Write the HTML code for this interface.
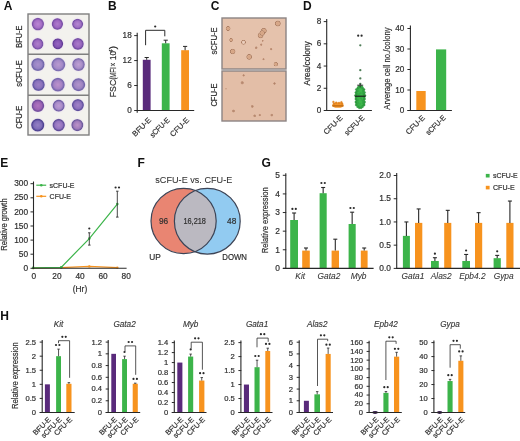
<!DOCTYPE html>
<html><head><meta charset="utf-8"><style>
html,body{margin:0;padding:0;background:#fff;width:520px;height:441px;overflow:hidden}
svg{display:block;will-change:transform;filter:blur(0.3px)}
text{font-family:"Liberation Sans", sans-serif}
</style></head><body>
<svg width="520" height="441" viewBox="0 0 520 441">
<rect width="520" height="441" fill="#fff"/>
<text x="3.80" y="9.85" font-size="12.0" text-anchor="start" fill="#111" font-weight="bold">A</text>
<defs><radialGradient id="cA" cx="50%" cy="48%" r="52%"><stop offset="0" stop-color="#b482d2"/><stop offset="0.55" stop-color="#a272c6"/><stop offset="0.85" stop-color="#865ab0"/><stop offset="1" stop-color="#7d55a8" stop-opacity="0.85"/></radialGradient><radialGradient id="cAd" cx="50%" cy="48%" r="52%"><stop offset="0" stop-color="#9262c0"/><stop offset="0.55" stop-color="#8352b2"/><stop offset="0.85" stop-color="#6c409c"/><stop offset="1" stop-color="#6c449c" stop-opacity="0.85"/></radialGradient><radialGradient id="cB" cx="50%" cy="50%" r="52%"><stop offset="0" stop-color="#b896d2"/><stop offset="0.55" stop-color="#a88cc8"/><stop offset="0.85" stop-color="#8a76b6"/><stop offset="1" stop-color="#7e6ab0" stop-opacity="0.85"/></radialGradient><radialGradient id="cC" cx="50%" cy="50%" r="52%"><stop offset="0" stop-color="#b68cd0"/><stop offset="0.55" stop-color="#a27ec6"/><stop offset="0.85" stop-color="#8064b0"/><stop offset="1" stop-color="#745aa8" stop-opacity="0.85"/></radialGradient><radialGradient id="halo" cx="50%" cy="50%" r="50%"><stop offset="0.6" stop-color="#e9dcef"/><stop offset="1" stop-color="#f3f0ee" stop-opacity="0"/></radialGradient><radialGradient id="col" cx="50%" cy="50%" r="50%"><stop offset="0" stop-color="#d6a484"/><stop offset="0.5" stop-color="#d8a98a"/><stop offset="0.75" stop-color="#a97c62"/><stop offset="1" stop-color="#e5c2ac" stop-opacity="0"/></radialGradient><radialGradient id="colw" cx="50%" cy="50%" r="50%"><stop offset="0" stop-color="#ecd2c2"/><stop offset="0.45" stop-color="#e6c6b2"/><stop offset="0.72" stop-color="#a97c62"/><stop offset="1" stop-color="#e5c2ac" stop-opacity="0"/></radialGradient><radialGradient id="dot" cx="50%" cy="50%" r="50%"><stop offset="0" stop-color="#b0826a"/><stop offset="0.6" stop-color="#c4977d"/><stop offset="1" stop-color="#e3bea7" stop-opacity="0"/></radialGradient></defs>
<rect x="28.00" y="14.00" width="61.00" height="121.00" fill="#f3f2ee"/>
<defs><radialGradient id="cg0" cx="50%" cy="50%" r="50%"><stop offset="0" stop-color="#bb86d4"/><stop offset="0.6" stop-color="#a670c6"/><stop offset="0.88" stop-color="#7c52a8"/><stop offset="1" stop-color="#7c52a8" stop-opacity="0.5"/></radialGradient><radialGradient id="cg1" cx="50%" cy="50%" r="50%"><stop offset="0" stop-color="#b07ccc"/><stop offset="0.6" stop-color="#9c66c0"/><stop offset="0.88" stop-color="#764ca4"/><stop offset="1" stop-color="#764ca4" stop-opacity="0.5"/></radialGradient><radialGradient id="cg2" cx="50%" cy="50%" r="50%"><stop offset="0" stop-color="#b688d2"/><stop offset="0.6" stop-color="#a070c4"/><stop offset="0.88" stop-color="#7650a6"/><stop offset="1" stop-color="#7650a6" stop-opacity="0.5"/></radialGradient><radialGradient id="cg3" cx="50%" cy="50%" r="50%"><stop offset="0" stop-color="#b080cc"/><stop offset="0.6" stop-color="#9c6ac0"/><stop offset="0.88" stop-color="#7650a6"/><stop offset="1" stop-color="#7650a6" stop-opacity="0.5"/></radialGradient><radialGradient id="cg4" cx="50%" cy="50%" r="50%"><stop offset="0" stop-color="#9866c2"/><stop offset="0.6" stop-color="#8454b4"/><stop offset="0.88" stop-color="#623c96"/><stop offset="1" stop-color="#623c96" stop-opacity="0.5"/></radialGradient><radialGradient id="cg5" cx="50%" cy="50%" r="50%"><stop offset="0" stop-color="#ac7cca"/><stop offset="0.6" stop-color="#9866be"/><stop offset="0.88" stop-color="#704aa0"/><stop offset="1" stop-color="#704aa0" stop-opacity="0.5"/></radialGradient><radialGradient id="cg6" cx="50%" cy="50%" r="50%"><stop offset="0" stop-color="#a890cc"/><stop offset="0.6" stop-color="#9684c4"/><stop offset="0.88" stop-color="#6e64a8"/><stop offset="1" stop-color="#6e64a8" stop-opacity="0.5"/></radialGradient><radialGradient id="cg7" cx="50%" cy="50%" r="50%"><stop offset="0" stop-color="#b89ad0"/><stop offset="0.6" stop-color="#a48ac8"/><stop offset="0.88" stop-color="#7a6cb0"/><stop offset="1" stop-color="#7a6cb0" stop-opacity="0.5"/></radialGradient><radialGradient id="cg8" cx="50%" cy="50%" r="50%"><stop offset="0" stop-color="#c0a0d4"/><stop offset="0.6" stop-color="#a88ec8"/><stop offset="0.88" stop-color="#7a68ac"/><stop offset="1" stop-color="#7a68ac" stop-opacity="0.5"/></radialGradient><radialGradient id="cg9" cx="50%" cy="50%" r="50%"><stop offset="0" stop-color="#9c80c4"/><stop offset="0.6" stop-color="#8a72bc"/><stop offset="0.88" stop-color="#5e54a0"/><stop offset="1" stop-color="#5e54a0" stop-opacity="0.5"/></radialGradient><radialGradient id="cg10" cx="50%" cy="50%" r="50%"><stop offset="0" stop-color="#bc92cc"/><stop offset="0.6" stop-color="#a482c4"/><stop offset="0.88" stop-color="#7464ac"/><stop offset="1" stop-color="#7464ac" stop-opacity="0.5"/></radialGradient><radialGradient id="cg11" cx="50%" cy="50%" r="50%"><stop offset="0" stop-color="#b294cc"/><stop offset="0.6" stop-color="#9e84c2"/><stop offset="0.88" stop-color="#7264aa"/><stop offset="1" stop-color="#7264aa" stop-opacity="0.5"/></radialGradient><radialGradient id="cg12" cx="50%" cy="50%" r="50%"><stop offset="0" stop-color="#b074c0"/><stop offset="0.6" stop-color="#9c64b4"/><stop offset="0.88" stop-color="#704c9c"/><stop offset="1" stop-color="#704c9c" stop-opacity="0.5"/></radialGradient><radialGradient id="cg13" cx="50%" cy="50%" r="50%"><stop offset="0" stop-color="#be9cd4"/><stop offset="0.6" stop-color="#a88cc8"/><stop offset="0.88" stop-color="#6e5ca4"/><stop offset="1" stop-color="#6e5ca4" stop-opacity="0.5"/></radialGradient><radialGradient id="cg14" cx="50%" cy="50%" r="50%"><stop offset="0" stop-color="#a284c8"/><stop offset="0.6" stop-color="#8c70bc"/><stop offset="0.88" stop-color="#5e4e9c"/><stop offset="1" stop-color="#5e4e9c" stop-opacity="0.5"/></radialGradient><radialGradient id="cg15" cx="50%" cy="50%" r="50%"><stop offset="0" stop-color="#9480c4"/><stop offset="0.6" stop-color="#7e6cb8"/><stop offset="0.88" stop-color="#4c4090"/><stop offset="1" stop-color="#4c4090" stop-opacity="0.5"/></radialGradient><radialGradient id="cg16" cx="50%" cy="50%" r="50%"><stop offset="0" stop-color="#aa88ca"/><stop offset="0.6" stop-color="#9474c0"/><stop offset="0.88" stop-color="#5e4c98"/><stop offset="1" stop-color="#5e4c98" stop-opacity="0.5"/></radialGradient><radialGradient id="cg17" cx="50%" cy="50%" r="50%"><stop offset="0" stop-color="#bc94c8"/><stop offset="0.6" stop-color="#a07cbc"/><stop offset="0.88" stop-color="#6a589c"/><stop offset="1" stop-color="#6a589c" stop-opacity="0.5"/></radialGradient></defs>
<ellipse cx="37.9" cy="24.1" rx="8.4" ry="8.600000000000001" fill="url(#halo)"/>
<ellipse cx="57.4" cy="24.0" rx="7.9" ry="8.100000000000001" fill="url(#halo)"/>
<ellipse cx="77.6" cy="24.1" rx="7.8" ry="7.6000000000000005" fill="url(#halo)"/>
<ellipse cx="37.7" cy="43.9" rx="8.0" ry="8.100000000000001" fill="url(#halo)"/>
<ellipse cx="57.8" cy="43.8" rx="7.6000000000000005" ry="7.8" fill="url(#halo)"/>
<ellipse cx="77.9" cy="43.9" rx="8.2" ry="8.2" fill="url(#halo)"/>
<ellipse cx="37.9" cy="64.5" rx="9.0" ry="8.8" fill="url(#halo)"/>
<ellipse cx="58.3" cy="64.6" rx="9.3" ry="9.2" fill="url(#halo)"/>
<ellipse cx="78.5" cy="64.5" rx="8.600000000000001" ry="8.8" fill="url(#halo)"/>
<ellipse cx="38.5" cy="84.7" rx="8.600000000000001" ry="8.5" fill="url(#halo)"/>
<ellipse cx="57.9" cy="84.7" rx="9.2" ry="9.2" fill="url(#halo)"/>
<ellipse cx="78.5" cy="84.7" rx="9.0" ry="8.8" fill="url(#halo)"/>
<ellipse cx="37.9" cy="105.7" rx="8.600000000000001" ry="8.600000000000001" fill="url(#halo)"/>
<ellipse cx="58.7" cy="105.7" rx="8.3" ry="8.3" fill="url(#halo)"/>
<ellipse cx="77.9" cy="105.1" rx="8.3" ry="8.4" fill="url(#halo)"/>
<ellipse cx="37.7" cy="125.1" rx="8.9" ry="8.8" fill="url(#halo)"/>
<ellipse cx="58.7" cy="125.1" rx="8.5" ry="8.5" fill="url(#halo)"/>
<ellipse cx="77.3" cy="125.1" rx="8.3" ry="8.4" fill="url(#halo)"/>
<ellipse cx="37.9" cy="24.1" rx="6.2" ry="6.4" fill="url(#cg0)"/>
<ellipse cx="57.4" cy="24.0" rx="5.7" ry="5.9" fill="url(#cg1)"/>
<ellipse cx="77.6" cy="24.1" rx="5.6" ry="5.4" fill="url(#cg2)"/>
<ellipse cx="37.7" cy="43.9" rx="5.8" ry="5.9" fill="url(#cg3)"/>
<ellipse cx="57.8" cy="43.8" rx="5.4" ry="5.6" fill="url(#cg4)"/>
<ellipse cx="77.9" cy="43.9" rx="6.0" ry="6.0" fill="url(#cg5)"/>
<ellipse cx="37.9" cy="64.5" rx="6.8" ry="6.6" fill="url(#cg6)"/>
<ellipse cx="58.3" cy="64.6" rx="7.1" ry="7.0" fill="url(#cg7)"/>
<ellipse cx="78.5" cy="64.5" rx="6.4" ry="6.6" fill="url(#cg8)"/>
<ellipse cx="38.5" cy="84.7" rx="6.4" ry="6.3" fill="url(#cg9)"/>
<ellipse cx="57.9" cy="84.7" rx="7.0" ry="7.0" fill="url(#cg10)"/>
<ellipse cx="78.5" cy="84.7" rx="6.8" ry="6.6" fill="url(#cg11)"/>
<ellipse cx="37.9" cy="105.7" rx="6.4" ry="6.4" fill="url(#cg12)"/>
<ellipse cx="58.7" cy="105.7" rx="6.1" ry="6.1" fill="url(#cg13)"/>
<ellipse cx="77.9" cy="105.1" rx="6.1" ry="6.2" fill="url(#cg14)"/>
<ellipse cx="37.7" cy="125.1" rx="6.7" ry="6.6" fill="url(#cg15)"/>
<ellipse cx="58.7" cy="125.1" rx="6.3" ry="6.3" fill="url(#cg16)"/>
<ellipse cx="77.3" cy="125.1" rx="6.1" ry="6.2" fill="url(#cg17)"/>
<rect x="28" y="14" width="61" height="121" fill="none" stroke="#7f7f7f" stroke-width="1.4"/>
<line x1="28.00" y1="54.30" x2="89.00" y2="54.30" stroke="#7f7f7f" stroke-width="1.4"/>
<line x1="28.00" y1="95.20" x2="89.00" y2="95.20" stroke="#7f7f7f" stroke-width="1.4"/>
<text x="21.90" y="36.70" font-size="8.4" text-anchor="middle" fill="#303030" stroke="#303030" stroke-width="0.2" transform="rotate(-90 21.90 36.70)" textLength="22.2" lengthAdjust="spacingAndGlyphs">BFU-E</text>
<text x="21.90" y="73.50" font-size="8.4" text-anchor="middle" fill="#303030" stroke="#303030" stroke-width="0.2" transform="rotate(-90 21.90 73.50)" textLength="26.6" lengthAdjust="spacingAndGlyphs">sCFU-E</text>
<text x="21.90" y="117.20" font-size="8.4" text-anchor="middle" fill="#303030" stroke="#303030" stroke-width="0.2" transform="rotate(-90 21.90 117.20)" textLength="23.2" lengthAdjust="spacingAndGlyphs">CFU-E</text>
<text x="108.00" y="9.85" font-size="12.0" text-anchor="start" fill="#111" font-weight="bold">B</text>
<rect x="142.80" y="59.80" width="7.80" height="50.70" fill="#592a7b"/>
<line x1="146.70" y1="59.80" x2="146.70" y2="57.50" stroke="#282828" stroke-width="1"/>
<line x1="144.60" y1="57.50" x2="148.80" y2="57.50" stroke="#282828" stroke-width="1"/>
<rect x="161.80" y="43.30" width="7.80" height="67.20" fill="#3cb44a"/>
<line x1="165.70" y1="43.30" x2="165.70" y2="40.20" stroke="#282828" stroke-width="1"/>
<line x1="163.60" y1="40.20" x2="167.80" y2="40.20" stroke="#282828" stroke-width="1"/>
<rect x="181.20" y="50.20" width="7.80" height="60.30" fill="#f7931e"/>
<line x1="185.10" y1="50.20" x2="185.10" y2="46.40" stroke="#282828" stroke-width="1"/>
<line x1="183.00" y1="46.40" x2="187.20" y2="46.40" stroke="#282828" stroke-width="1"/>
<polyline points="145.6,45.2 145.6,30.3 164.8,30.3 164.8,36.3" fill="none" stroke="#2b2b2b" stroke-width="1"/>
<circle cx="155.20" cy="26.50" r="1.1" fill="#2a2a2a"/>
<text x="116.40" y="97.20" font-size="8.7" text-anchor="start" fill="#303030" stroke="#303030" stroke-width="0.2" transform="rotate(-90 116.40 97.20)" textLength="17.4" lengthAdjust="spacingAndGlyphs">FSC</text>
<text x="116.40" y="79.60" font-size="8.7" text-anchor="start" fill="#303030" stroke="#303030" stroke-width="0.2" transform="rotate(-90 116.40 79.60)" textLength="12.2" lengthAdjust="spacingAndGlyphs">(MFI</text>
<text x="116.40" y="66.40" font-size="8.7" text-anchor="start" fill="#303030" stroke="#303030" stroke-width="0.2" transform="rotate(-90 116.40 66.40)" textLength="3.6" lengthAdjust="spacingAndGlyphs">×</text>
<text x="116.40" y="60.00" font-size="8.7" text-anchor="start" fill="#303030" stroke="#303030" stroke-width="0.2" transform="rotate(-90 116.40 60.00)" textLength="9.0" lengthAdjust="spacingAndGlyphs">10</text>
<text x="112.60" y="52.60" font-size="5.6" text-anchor="start" fill="#303030" stroke="#303030" stroke-width="0.2" transform="rotate(-90 112.60 52.60)" textLength="3.2" lengthAdjust="spacingAndGlyphs">4</text>
<text x="116.40" y="49.40" font-size="8.7" text-anchor="start" fill="#303030" stroke="#303030" stroke-width="0.2" transform="rotate(-90 116.40 49.40)" textLength="3.6" lengthAdjust="spacingAndGlyphs">)</text>
<text x="151.54" y="120.67" font-size="7.6" text-anchor="end" fill="#303030" stroke="#303030" stroke-width="0.2" transform="rotate(-45 151.54 120.67)" textLength="23.0" lengthAdjust="spacingAndGlyphs">BFU-E</text>
<text x="170.24" y="120.67" font-size="7.6" text-anchor="end" fill="#303030" stroke="#303030" stroke-width="0.2" transform="rotate(-45 170.24 120.67)" textLength="24.5" lengthAdjust="spacingAndGlyphs">sCFU-E</text>
<text x="189.74" y="120.67" font-size="7.6" text-anchor="end" fill="#303030" stroke="#303030" stroke-width="0.2" transform="rotate(-45 189.74 120.67)" textLength="23.5" lengthAdjust="spacingAndGlyphs">CFU-E</text>
<text x="210.80" y="9.85" font-size="12.0" text-anchor="start" fill="#111" font-weight="bold">C</text>
<rect x="222.00" y="18.00" width="64.00" height="51.00" fill="#e5c2ac"/>
<rect x="222.00" y="71.00" width="64.00" height="50.00" fill="#e3bea7"/>
<circle cx="228.1" cy="28.5" r="2.8" fill="url(#col)"/>
<circle cx="231.2" cy="40" r="2.2" fill="url(#col)"/>
<circle cx="243.5" cy="42.3" r="2.8" fill="url(#colw)"/>
<circle cx="232.7" cy="51.5" r="3.2" fill="url(#col)"/>
<circle cx="249.2" cy="56.9" r="3.3" fill="url(#col)"/>
<circle cx="263.8" cy="30.8" r="3.4" fill="url(#col)"/>
<circle cx="260.6" cy="35.4" r="3.4" fill="url(#col)"/>
<circle cx="262.2" cy="33.0" r="3.2" fill="url(#col)"/>
<circle cx="277.8" cy="23.5" r="3.4" fill="url(#col)"/>
<circle cx="275.8" cy="64.2" r="2.6" fill="url(#col)"/>
<circle cx="271.2" cy="49.2" r="1.6" fill="url(#dot)"/>
<circle cx="261.2" cy="44.6" r="1.6" fill="url(#dot)"/>
<circle cx="256.2" cy="47.7" r="1.8" fill="url(#dot)"/>
<circle cx="263.5" cy="59.2" r="1.5" fill="url(#dot)"/>
<circle cx="262.7" cy="40.8" r="1.3" fill="url(#dot)"/>
<circle cx="243.6" cy="75.4" r="1.6" fill="url(#dot)"/>
<circle cx="242.2" cy="82.8" r="2.2" fill="url(#dot)"/>
<circle cx="274.5" cy="83.5" r="1.7" fill="url(#dot)"/>
<circle cx="226" cy="88.9" r="1.0" fill="url(#dot)"/>
<circle cx="252.3" cy="106.4" r="1.9" fill="url(#dot)"/>
<circle cx="233.5" cy="111" r="2.0" fill="url(#dot)"/>
<circle cx="254.7" cy="115.8" r="1.9" fill="url(#dot)"/>
<circle cx="259.7" cy="115.1" r="1.6" fill="url(#dot)"/>
<circle cx="271.8" cy="115.1" r="1.9" fill="url(#dot)"/>
<rect x="222" y="18" width="64" height="51" fill="none" stroke="#8c8484" stroke-width="1.4"/>
<rect x="222" y="71" width="64" height="50" fill="none" stroke="#8c8484" stroke-width="1.4"/>
<text x="217.00" y="40.90" font-size="8.4" text-anchor="middle" fill="#303030" stroke="#303030" stroke-width="0.2" transform="rotate(-90 217.00 40.90)" textLength="27.2" lengthAdjust="spacingAndGlyphs">sCFU-E</text>
<text x="217.00" y="95.00" font-size="8.4" text-anchor="middle" fill="#303030" stroke="#303030" stroke-width="0.2" transform="rotate(-90 217.00 95.00)" textLength="23.2" lengthAdjust="spacingAndGlyphs">CFU-E</text>
<text x="302.90" y="9.85" font-size="12.0" text-anchor="start" fill="#111" font-weight="bold">D</text>
<text x="310.00" y="63.30" font-size="8.6" text-anchor="middle" fill="#303030" stroke="#303030" stroke-width="0.2" transform="rotate(-90 310.00 63.30)" textLength="44.2" lengthAdjust="spacingAndGlyphs">Area/colony</text>
<polygon points="359.40,85.80 358.20,86.60 357.20,88.00 355.70,89.50 356.40,91.00 355.20,92.50 355.90,94.00 354.80,95.50 355.60,97.50 355.20,99.00 356.20,100.50 355.20,102.00 356.00,103.50 355.60,105.00 357.20,106.50 358.60,107.80 359.60,108.50 360.80,108.50 361.80,107.80 363.20,106.50 364.80,105.00 364.40,103.50 365.20,102.00 364.20,100.50 365.20,99.00 364.80,97.50 365.60,95.50 364.50,94.00 365.20,92.50 364.00,91.00 364.70,89.50 363.20,88.00 362.20,86.60 361.00,85.80" fill="#3db84b"/>
<circle cx="358.80" cy="86.60" r="1.0" fill="#33a544" stroke="#2a8c3a" stroke-width="0.4"/>
<circle cx="361.60" cy="86.60" r="1.0" fill="#33a544" stroke="#2a8c3a" stroke-width="0.4"/>
<circle cx="357.80" cy="88.00" r="1.0" fill="#33a544" stroke="#2a8c3a" stroke-width="0.4"/>
<circle cx="362.60" cy="88.00" r="1.0" fill="#33a544" stroke="#2a8c3a" stroke-width="0.4"/>
<circle cx="356.30" cy="89.50" r="1.0" fill="#33a544" stroke="#2a8c3a" stroke-width="0.4"/>
<circle cx="364.10" cy="89.50" r="1.0" fill="#33a544" stroke="#2a8c3a" stroke-width="0.4"/>
<circle cx="357.00" cy="91.00" r="1.0" fill="#33a544" stroke="#2a8c3a" stroke-width="0.4"/>
<circle cx="363.40" cy="91.00" r="1.0" fill="#33a544" stroke="#2a8c3a" stroke-width="0.4"/>
<circle cx="355.80" cy="92.50" r="1.0" fill="#33a544" stroke="#2a8c3a" stroke-width="0.4"/>
<circle cx="364.60" cy="92.50" r="1.0" fill="#33a544" stroke="#2a8c3a" stroke-width="0.4"/>
<circle cx="356.50" cy="94.00" r="1.0" fill="#33a544" stroke="#2a8c3a" stroke-width="0.4"/>
<circle cx="363.90" cy="94.00" r="1.0" fill="#33a544" stroke="#2a8c3a" stroke-width="0.4"/>
<circle cx="355.40" cy="95.50" r="1.0" fill="#33a544" stroke="#2a8c3a" stroke-width="0.4"/>
<circle cx="365.00" cy="95.50" r="1.0" fill="#33a544" stroke="#2a8c3a" stroke-width="0.4"/>
<circle cx="356.20" cy="97.50" r="1.0" fill="#33a544" stroke="#2a8c3a" stroke-width="0.4"/>
<circle cx="364.20" cy="97.50" r="1.0" fill="#33a544" stroke="#2a8c3a" stroke-width="0.4"/>
<circle cx="355.80" cy="99.00" r="1.0" fill="#33a544" stroke="#2a8c3a" stroke-width="0.4"/>
<circle cx="364.60" cy="99.00" r="1.0" fill="#33a544" stroke="#2a8c3a" stroke-width="0.4"/>
<circle cx="356.80" cy="100.50" r="1.0" fill="#33a544" stroke="#2a8c3a" stroke-width="0.4"/>
<circle cx="363.60" cy="100.50" r="1.0" fill="#33a544" stroke="#2a8c3a" stroke-width="0.4"/>
<circle cx="355.80" cy="102.00" r="1.0" fill="#33a544" stroke="#2a8c3a" stroke-width="0.4"/>
<circle cx="364.60" cy="102.00" r="1.0" fill="#33a544" stroke="#2a8c3a" stroke-width="0.4"/>
<circle cx="356.60" cy="103.50" r="1.0" fill="#33a544" stroke="#2a8c3a" stroke-width="0.4"/>
<circle cx="363.80" cy="103.50" r="1.0" fill="#33a544" stroke="#2a8c3a" stroke-width="0.4"/>
<circle cx="356.20" cy="105.00" r="1.0" fill="#33a544" stroke="#2a8c3a" stroke-width="0.4"/>
<circle cx="364.20" cy="105.00" r="1.0" fill="#33a544" stroke="#2a8c3a" stroke-width="0.4"/>
<circle cx="357.80" cy="106.50" r="1.0" fill="#33a544" stroke="#2a8c3a" stroke-width="0.4"/>
<circle cx="362.60" cy="106.50" r="1.0" fill="#33a544" stroke="#2a8c3a" stroke-width="0.4"/>
<circle cx="359.20" cy="107.80" r="1.0" fill="#33a544" stroke="#2a8c3a" stroke-width="0.4"/>
<circle cx="361.20" cy="107.80" r="1.0" fill="#33a544" stroke="#2a8c3a" stroke-width="0.4"/>
<circle cx="361.65" cy="99.77" r="0.9" fill="#34a846" opacity="0.8"/>
<circle cx="362.85" cy="103.30" r="0.9" fill="#34a846" opacity="0.8"/>
<circle cx="362.73" cy="102.17" r="0.9" fill="#34a846" opacity="0.8"/>
<circle cx="359.99" cy="87.59" r="0.9" fill="#34a846" opacity="0.8"/>
<circle cx="361.09" cy="106.34" r="0.9" fill="#34a846" opacity="0.8"/>
<circle cx="357.88" cy="105.47" r="0.9" fill="#34a846" opacity="0.8"/>
<circle cx="358.68" cy="96.62" r="0.9" fill="#34a846" opacity="0.8"/>
<circle cx="360.64" cy="98.15" r="0.9" fill="#34a846" opacity="0.8"/>
<circle cx="358.50" cy="87.27" r="0.9" fill="#34a846" opacity="0.8"/>
<circle cx="362.70" cy="92.73" r="0.9" fill="#34a846" opacity="0.8"/>
<circle cx="358.16" cy="102.70" r="0.9" fill="#34a846" opacity="0.8"/>
<circle cx="358.03" cy="103.34" r="0.9" fill="#34a846" opacity="0.8"/>
<circle cx="357.96" cy="99.66" r="0.9" fill="#34a846" opacity="0.8"/>
<circle cx="362.43" cy="87.04" r="0.9" fill="#34a846" opacity="0.8"/>
<circle cx="358.49" cy="91.29" r="0.9" fill="#34a846" opacity="0.8"/>
<circle cx="362.43" cy="107.14" r="0.9" fill="#34a846" opacity="0.8"/>
<circle cx="362.97" cy="92.93" r="0.9" fill="#34a846" opacity="0.8"/>
<circle cx="361.27" cy="98.05" r="0.9" fill="#34a846" opacity="0.8"/>
<circle cx="362.85" cy="91.20" r="0.9" fill="#34a846" opacity="0.8"/>
<circle cx="363.00" cy="101.16" r="0.9" fill="#34a846" opacity="0.8"/>
<circle cx="358.99" cy="105.32" r="0.9" fill="#34a846" opacity="0.8"/>
<circle cx="358.20" cy="94.40" r="0.9" fill="#34a846" opacity="0.8"/>
<circle cx="357.59" cy="89.99" r="0.9" fill="#34a846" opacity="0.8"/>
<circle cx="360.82" cy="93.18" r="0.9" fill="#34a846" opacity="0.8"/>
<circle cx="361.27" cy="87.07" r="0.9" fill="#34a846" opacity="0.8"/>
<circle cx="359.06" cy="93.93" r="0.9" fill="#34a846" opacity="0.8"/>
<circle cx="360.08" cy="103.78" r="0.9" fill="#34a846" opacity="0.8"/>
<circle cx="360.09" cy="93.47" r="0.9" fill="#34a846" opacity="0.8"/>
<circle cx="357.54" cy="101.45" r="0.9" fill="#34a846" opacity="0.8"/>
<circle cx="357.34" cy="106.99" r="0.9" fill="#34a846" opacity="0.8"/>
<circle cx="360.3" cy="45.3" r="1.15" fill="#4f7d58"/>
<circle cx="360.3" cy="70.2" r="1.15" fill="#4f7d58"/>
<circle cx="360.3" cy="78.4" r="1.15" fill="#4f7d58"/>
<circle cx="360.3" cy="83.9" r="1.15" fill="#4f7d58"/>
<line x1="360.20" y1="83.60" x2="360.20" y2="87.50" stroke="#222" stroke-width="0.7"/>
<line x1="357.20" y1="85.20" x2="363.20" y2="85.20" stroke="#222" stroke-width="0.9"/>
<line x1="354.90" y1="96.20" x2="365.60" y2="96.20" stroke="#1a1a1a" stroke-width="1.2"/>
<polygon points="335.30,102.60 333.70,103.30 332.70,104.00 332.20,105.00 332.20,106.00 333.30,107.00 335.30,107.80 340.50,107.80 342.50,107.00 343.60,106.00 343.60,105.00 343.10,104.00 342.10,103.30 340.50,102.60" fill="#f6962a"/>
<circle cx="333.4" cy="101.9" r="0.95" fill="#ef8c20" stroke="#c8741a" stroke-width="0.3"/>
<circle cx="336.2" cy="102.6" r="0.95" fill="#ef8c20" stroke="#c8741a" stroke-width="0.3"/>
<circle cx="341.4" cy="102.3" r="0.95" fill="#ef8c20" stroke="#c8741a" stroke-width="0.3"/>
<circle cx="339" cy="102.9" r="0.95" fill="#ef8c20" stroke="#c8741a" stroke-width="0.3"/>
<circle cx="334" cy="103.6" r="0.95" fill="#ef8c20" stroke="#c8741a" stroke-width="0.3"/>
<circle cx="342.2" cy="103.8" r="0.95" fill="#ef8c20" stroke="#c8741a" stroke-width="0.3"/>
<line x1="332.30" y1="105.90" x2="343.50" y2="105.90" stroke="#b0600e" stroke-width="1.1"/>
<circle cx="358.20" cy="35.70" r="1.1" fill="#2a2a2a"/>
<circle cx="361.60" cy="35.70" r="1.1" fill="#2a2a2a"/>
<text x="343.24" y="118.47" font-size="7.6" text-anchor="end" fill="#303030" stroke="#303030" stroke-width="0.2" transform="rotate(-45 343.24 118.47)" textLength="23.5" lengthAdjust="spacingAndGlyphs">CFU-E</text>
<text x="364.94" y="118.47" font-size="7.6" text-anchor="end" fill="#303030" stroke="#303030" stroke-width="0.2" transform="rotate(-45 364.94 118.47)" textLength="24.5" lengthAdjust="spacingAndGlyphs">sCFU-E</text>
<rect x="416.30" y="91.00" width="9.40" height="19.50" fill="#f7931e"/>
<rect x="436.00" y="49.40" width="10.20" height="61.10" fill="#3cb44a"/>
<text x="389.60" y="68.50" font-size="8.4" text-anchor="middle" fill="#303030" stroke="#303030" stroke-width="0.2" transform="rotate(-90 389.60 68.50)" textLength="82.5" lengthAdjust="spacingAndGlyphs">Arverage cell no./colony</text>
<text x="425.34" y="118.27" font-size="7.6" text-anchor="end" fill="#303030" stroke="#303030" stroke-width="0.2" transform="rotate(-45 425.34 118.27)" textLength="23.5" lengthAdjust="spacingAndGlyphs">CFU-E</text>
<text x="446.14" y="118.27" font-size="7.6" text-anchor="end" fill="#303030" stroke="#303030" stroke-width="0.2" transform="rotate(-45 446.14 118.27)" textLength="24.5" lengthAdjust="spacingAndGlyphs">sCFU-E</text>
<text x="0.30" y="166.95" font-size="12.0" text-anchor="start" fill="#111" font-weight="bold">E</text>
<text x="33.80" y="279.00" font-size="8.3" text-anchor="middle" fill="#303030" stroke="#303030" stroke-width="0.2">0</text>
<text x="56.90" y="279.00" font-size="8.3" text-anchor="middle" fill="#303030" stroke="#303030" stroke-width="0.2">20</text>
<text x="80.00" y="279.00" font-size="8.3" text-anchor="middle" fill="#303030" stroke="#303030" stroke-width="0.2">40</text>
<text x="103.10" y="279.00" font-size="8.3" text-anchor="middle" fill="#303030" stroke="#303030" stroke-width="0.2">60</text>
<text x="126.20" y="279.00" font-size="8.3" text-anchor="middle" fill="#303030" stroke="#303030" stroke-width="0.2">80</text>
<text x="80.00" y="292.00" font-size="8.3" text-anchor="middle" fill="#303030" stroke="#303030" stroke-width="0.2">(Hr)</text>
<text x="7.50" y="224.60" font-size="8.7" text-anchor="middle" fill="#303030" stroke="#303030" stroke-width="0.2" transform="rotate(-90 7.50 224.60)" textLength="52.5" lengthAdjust="spacingAndGlyphs">Relative growth</text>
<polyline points="33.2,268.0 61.2,267.6 89.3,266.4 117.3,267.6" fill="none" stroke="#f7931e" stroke-width="1.2"/>
<circle cx="33.2" cy="268.0" r="1.2" fill="#f7931e"/>
<circle cx="61.2" cy="267.6" r="1.2" fill="#f7931e"/>
<circle cx="89.3" cy="266.4" r="1.2" fill="#f7931e"/>
<circle cx="117.3" cy="267.6" r="1.2" fill="#f7931e"/>
<polyline points="33.2,267.9 61.2,267.3 89.3,238.6 117.3,204.1" fill="none" stroke="#3cb44a" stroke-width="1.2"/>
<circle cx="33.2" cy="267.9" r="1.3" fill="#3cb44a"/>
<circle cx="61.2" cy="267.3" r="1.3" fill="#3cb44a"/>
<circle cx="89.3" cy="238.6" r="1.3" fill="#3cb44a"/>
<circle cx="117.3" cy="204.1" r="1.3" fill="#3cb44a"/>
<line x1="89.30" y1="245.10" x2="89.30" y2="232.80" stroke="#333" stroke-width="0.9"/>
<line x1="88.05" y1="232.80" x2="90.55" y2="232.80" stroke="#333" stroke-width="0.9"/>
<line x1="88.00" y1="245.10" x2="90.60" y2="245.10" stroke="#333" stroke-width="0.9"/>
<line x1="117.30" y1="217.10" x2="117.30" y2="191.20" stroke="#333" stroke-width="0.9"/>
<line x1="116.05" y1="191.20" x2="118.55" y2="191.20" stroke="#333" stroke-width="0.9"/>
<line x1="116.00" y1="217.10" x2="118.60" y2="217.10" stroke="#333" stroke-width="0.9"/>
<circle cx="89.30" cy="228.50" r="1.1" fill="#2a2a2a"/>
<circle cx="115.60" cy="187.50" r="1.1" fill="#2a2a2a"/>
<circle cx="119.00" cy="187.50" r="1.1" fill="#2a2a2a"/>
<line x1="36.30" y1="185.20" x2="46.20" y2="185.20" stroke="#3cb44a" stroke-width="1.2"/>
<circle cx="41.3" cy="185.2" r="1.3" fill="#3cb44a"/>
<line x1="36.30" y1="196.30" x2="46.20" y2="196.30" stroke="#f7931e" stroke-width="1.2"/>
<circle cx="41.3" cy="196.3" r="1.3" fill="#f7931e"/>
<text x="49.60" y="187.90" font-size="7.5" text-anchor="start" fill="#303030" stroke="#303030" stroke-width="0.2" textLength="24.8" lengthAdjust="spacingAndGlyphs">sCFU-E</text>
<text x="49.60" y="199.00" font-size="7.5" text-anchor="start" fill="#303030" stroke="#303030" stroke-width="0.2" textLength="21.4" lengthAdjust="spacingAndGlyphs">CFU-E</text>
<text x="137.60" y="166.75" font-size="12.0" text-anchor="start" fill="#111" font-weight="bold">F</text>
<text x="193.80" y="182.90" font-size="9.6" text-anchor="middle" fill="#333" stroke="#333" stroke-width="0.05" textLength="77.0" lengthAdjust="spacingAndGlyphs">sCFU-E vs. CFU-E</text>
<circle cx="183.6" cy="221.0" r="32.6" fill="#e98572"/>
<circle cx="207.3" cy="221.2" r="32.9" fill="#92cbf1"/>
<clipPath id="clr"><circle cx="183.6" cy="221.0" r="32.6"/></clipPath>
<circle cx="207.3" cy="221.2" r="32.9" fill="#bbb9c1" clip-path="url(#clr)"/>
<circle cx="183.6" cy="221.0" r="32.6" fill="none" stroke="#3d4456" stroke-width="1.2"/>
<circle cx="207.3" cy="221.2" r="32.9" fill="none" stroke="#3d4456" stroke-width="1.2"/>
<text x="163.50" y="224.20" font-size="8.3" text-anchor="middle" fill="#303030" stroke="#303030" stroke-width="0.2">96</text>
<text x="194.70" y="224.20" font-size="8.3" text-anchor="middle" fill="#303030" stroke="#303030" stroke-width="0.2" textLength="22.6" lengthAdjust="spacingAndGlyphs">16,218</text>
<text x="231.70" y="224.20" font-size="8.3" text-anchor="middle" fill="#303030" stroke="#303030" stroke-width="0.2">48</text>
<text x="155.00" y="260.00" font-size="8.3" text-anchor="middle" fill="#303030" stroke="#303030" stroke-width="0.2">UP</text>
<text x="234.60" y="260.00" font-size="8.3" text-anchor="middle" fill="#303030" stroke="#303030" stroke-width="0.2" textLength="24.7" lengthAdjust="spacingAndGlyphs">DOWN</text>
<text x="261.60" y="166.95" font-size="12.0" text-anchor="start" fill="#111" font-weight="bold">G</text>
<text x="268.40" y="220.30" font-size="8.7" text-anchor="middle" fill="#303030" stroke="#303030" stroke-width="0.2" transform="rotate(-90 268.40 220.30)" textLength="66" lengthAdjust="spacingAndGlyphs">Relative expression</text>
<rect x="290.20" y="220.00" width="7.80" height="48.40" fill="#3cb44a"/>
<line x1="294.10" y1="220.00" x2="294.10" y2="213.00" stroke="#282828" stroke-width="1.1"/>
<line x1="292.10" y1="213.00" x2="296.10" y2="213.00" stroke="#282828" stroke-width="1.1"/>
<rect x="302.20" y="250.60" width="7.60" height="17.80" fill="#f7931e"/>
<line x1="306.00" y1="250.60" x2="306.00" y2="248.00" stroke="#282828" stroke-width="1.1"/>
<line x1="304.00" y1="248.00" x2="308.00" y2="248.00" stroke="#282828" stroke-width="1.1"/>
<rect x="319.60" y="193.20" width="7.10" height="75.20" fill="#3cb44a"/>
<line x1="323.15" y1="193.20" x2="323.15" y2="187.50" stroke="#282828" stroke-width="1.1"/>
<line x1="321.15" y1="187.50" x2="325.15" y2="187.50" stroke="#282828" stroke-width="1.1"/>
<rect x="331.60" y="250.60" width="7.40" height="17.80" fill="#f7931e"/>
<line x1="335.30" y1="250.60" x2="335.30" y2="239.20" stroke="#282828" stroke-width="1.1"/>
<line x1="333.30" y1="239.20" x2="337.30" y2="239.20" stroke="#282828" stroke-width="1.1"/>
<rect x="348.60" y="224.00" width="7.10" height="44.40" fill="#3cb44a"/>
<line x1="352.15" y1="224.00" x2="352.15" y2="212.20" stroke="#282828" stroke-width="1.1"/>
<line x1="350.15" y1="212.20" x2="354.15" y2="212.20" stroke="#282828" stroke-width="1.1"/>
<rect x="360.80" y="250.60" width="6.80" height="17.80" fill="#f7931e"/>
<line x1="364.20" y1="250.60" x2="364.20" y2="248.00" stroke="#282828" stroke-width="1.1"/>
<line x1="362.20" y1="248.00" x2="366.20" y2="248.00" stroke="#282828" stroke-width="1.1"/>
<circle cx="292.40" cy="208.90" r="1.1" fill="#2a2a2a"/>
<circle cx="295.80" cy="208.90" r="1.1" fill="#2a2a2a"/>
<circle cx="321.40" cy="183.00" r="1.1" fill="#2a2a2a"/>
<circle cx="324.80" cy="183.00" r="1.1" fill="#2a2a2a"/>
<circle cx="350.40" cy="208.00" r="1.1" fill="#2a2a2a"/>
<circle cx="353.80" cy="208.00" r="1.1" fill="#2a2a2a"/>
<text x="300.20" y="278.50" font-size="8.4" text-anchor="middle" fill="#303030" stroke="#303030" stroke-width="0.05" font-style="italic">Kit</text>
<text x="329.00" y="278.50" font-size="8.4" text-anchor="middle" fill="#303030" stroke="#303030" stroke-width="0.05" font-style="italic">Gata2</text>
<text x="358.60" y="278.50" font-size="8.4" text-anchor="middle" fill="#303030" stroke="#303030" stroke-width="0.05" font-style="italic">Myb</text>
<rect x="402.90" y="235.88" width="7.00" height="32.51" fill="#3cb44a"/>
<line x1="406.40" y1="235.88" x2="406.40" y2="221.95" stroke="#282828" stroke-width="1.1"/>
<line x1="404.40" y1="221.95" x2="408.40" y2="221.95" stroke="#282828" stroke-width="1.1"/>
<rect x="415.00" y="222.88" width="7.30" height="45.52" fill="#f7931e"/>
<line x1="418.65" y1="222.88" x2="418.65" y2="208.94" stroke="#282828" stroke-width="1.1"/>
<line x1="416.65" y1="208.94" x2="420.65" y2="208.94" stroke="#282828" stroke-width="1.1"/>
<rect x="431.00" y="260.97" width="7.80" height="7.43" fill="#3cb44a"/>
<line x1="434.90" y1="260.97" x2="434.90" y2="257.72" stroke="#282828" stroke-width="1.1"/>
<line x1="432.90" y1="257.72" x2="436.90" y2="257.72" stroke="#282828" stroke-width="1.1"/>
<rect x="444.20" y="222.88" width="7.10" height="45.52" fill="#f7931e"/>
<line x1="447.75" y1="222.88" x2="447.75" y2="210.34" stroke="#282828" stroke-width="1.1"/>
<line x1="445.75" y1="210.34" x2="449.75" y2="210.34" stroke="#282828" stroke-width="1.1"/>
<rect x="462.30" y="260.97" width="7.70" height="7.43" fill="#3cb44a"/>
<line x1="466.15" y1="260.97" x2="466.15" y2="254.46" stroke="#282828" stroke-width="1.1"/>
<line x1="464.15" y1="254.46" x2="468.15" y2="254.46" stroke="#282828" stroke-width="1.1"/>
<rect x="475.00" y="222.88" width="7.20" height="45.52" fill="#f7931e"/>
<line x1="478.60" y1="222.88" x2="478.60" y2="212.66" stroke="#282828" stroke-width="1.1"/>
<line x1="476.60" y1="212.66" x2="480.60" y2="212.66" stroke="#282828" stroke-width="1.1"/>
<rect x="493.60" y="258.18" width="7.20" height="10.22" fill="#3cb44a"/>
<line x1="497.20" y1="258.18" x2="497.20" y2="255.39" stroke="#282828" stroke-width="1.1"/>
<line x1="495.20" y1="255.39" x2="499.20" y2="255.39" stroke="#282828" stroke-width="1.1"/>
<rect x="506.30" y="222.88" width="7.20" height="45.52" fill="#f7931e"/>
<line x1="509.90" y1="222.88" x2="509.90" y2="201.05" stroke="#282828" stroke-width="1.1"/>
<line x1="507.90" y1="201.05" x2="511.90" y2="201.05" stroke="#282828" stroke-width="1.1"/>
<circle cx="434.90" cy="253.70" r="1.1" fill="#2a2a2a"/>
<circle cx="466.10" cy="250.50" r="1.1" fill="#2a2a2a"/>
<circle cx="497.20" cy="251.30" r="1.1" fill="#2a2a2a"/>
<text x="413.00" y="278.50" font-size="8.4" text-anchor="middle" fill="#303030" stroke="#303030" stroke-width="0.05" font-style="italic">Gata1</text>
<text x="441.20" y="278.50" font-size="8.4" text-anchor="middle" fill="#303030" stroke="#303030" stroke-width="0.05" font-style="italic">Alas2</text>
<text x="472.40" y="278.50" font-size="8.4" text-anchor="middle" fill="#303030" stroke="#303030" stroke-width="0.05" font-style="italic">Epb4.2</text>
<text x="503.70" y="278.50" font-size="8.4" text-anchor="middle" fill="#303030" stroke="#303030" stroke-width="0.05" font-style="italic">Gypa</text>
<rect x="485.80" y="173.90" width="3.80" height="3.60" fill="#3cb44a"/>
<rect x="485.80" y="185.80" width="3.80" height="3.60" fill="#f7931e"/>
<text x="493.00" y="178.30" font-size="7.5" text-anchor="start" fill="#303030" stroke="#303030" stroke-width="0.2" textLength="24.7" lengthAdjust="spacingAndGlyphs">sCFU-E</text>
<text x="493.00" y="190.20" font-size="7.5" text-anchor="start" fill="#303030" stroke="#303030" stroke-width="0.2" textLength="21.6" lengthAdjust="spacingAndGlyphs">CFU-E</text>
<text x="0.20" y="319.95" font-size="12.0" text-anchor="start" fill="#111" font-weight="bold">H</text>
<text x="17.90" y="375.60" font-size="8.7" text-anchor="middle" fill="#303030" stroke="#303030" stroke-width="0.2" transform="rotate(-90 17.90 375.60)" textLength="66.7" lengthAdjust="spacingAndGlyphs">Relative expression</text>
<rect x="44.90" y="384.34" width="5.00" height="28.16" fill="#592a7b"/>
<rect x="56.10" y="356.18" width="4.90" height="56.32" fill="#3cb44a"/>
<line x1="58.55" y1="356.18" x2="58.55" y2="349.14" stroke="#282828" stroke-width="0.8"/>
<line x1="57.30" y1="349.14" x2="59.80" y2="349.14" stroke="#282828" stroke-width="0.8"/>
<rect x="66.30" y="383.78" width="5.20" height="28.72" fill="#f7931e"/>
<line x1="68.90" y1="383.78" x2="68.90" y2="382.65" stroke="#282828" stroke-width="0.8"/>
<line x1="67.65" y1="382.65" x2="70.15" y2="382.65" stroke="#282828" stroke-width="0.8"/>
<circle cx="56.00" cy="345.00" r="1.1" fill="#2a2a2a"/>
<circle cx="59.40" cy="345.00" r="1.1" fill="#2a2a2a"/>
<polyline points="58.5,343.2 58.5,340.7 69.6,340.7 69.6,377.8" fill="none" stroke="#2b2b2b" stroke-width="0.8"/>
<circle cx="62.35" cy="336.80" r="1.1" fill="#2a2a2a"/>
<circle cx="65.75" cy="336.80" r="1.1" fill="#2a2a2a"/>
<text x="58.55" y="326.90" font-size="8.2" text-anchor="middle" fill="#333" stroke="#333" stroke-width="0.12" font-style="italic">Kit</text>
<text x="51.32" y="420.14" font-size="7.3" text-anchor="end" fill="#303030" stroke="#303030" stroke-width="0.2" transform="rotate(-45 51.32 420.14)">BFU-E</text>
<text x="62.27" y="420.14" font-size="7.3" text-anchor="end" fill="#303030" stroke="#303030" stroke-width="0.2" transform="rotate(-45 62.27 420.14)">sCFU-E</text>
<text x="72.72" y="420.14" font-size="7.3" text-anchor="end" fill="#303030" stroke="#303030" stroke-width="0.2" transform="rotate(-45 72.72 420.14)">CFU-E</text>
<rect x="111.30" y="353.83" width="4.70" height="58.67" fill="#592a7b"/>
<rect x="122.10" y="359.11" width="4.90" height="53.39" fill="#3cb44a"/>
<line x1="124.55" y1="359.11" x2="124.55" y2="356.18" stroke="#282828" stroke-width="0.8"/>
<line x1="123.30" y1="356.18" x2="125.80" y2="356.18" stroke="#282828" stroke-width="0.8"/>
<rect x="132.70" y="383.75" width="5.10" height="28.75" fill="#f7931e"/>
<line x1="135.25" y1="383.75" x2="135.25" y2="383.17" stroke="#282828" stroke-width="0.8"/>
<line x1="134.00" y1="383.17" x2="136.50" y2="383.17" stroke="#282828" stroke-width="0.8"/>
<circle cx="124.50" cy="352.00" r="1.1" fill="#2a2a2a"/>
<circle cx="133.50" cy="378.90" r="1.1" fill="#2a2a2a"/>
<circle cx="136.90" cy="378.90" r="1.1" fill="#2a2a2a"/>
<polyline points="125.0,351.5 125.0,345.9 135.7,345.9 135.7,374.8" fill="none" stroke="#2b2b2b" stroke-width="0.8"/>
<circle cx="128.65" cy="342.00" r="1.1" fill="#2a2a2a"/>
<circle cx="132.05" cy="342.00" r="1.1" fill="#2a2a2a"/>
<text x="124.55" y="326.90" font-size="8.2" text-anchor="middle" fill="#333" stroke="#333" stroke-width="0.12" font-style="italic">Gata2</text>
<text x="117.57" y="420.14" font-size="7.3" text-anchor="end" fill="#303030" stroke="#303030" stroke-width="0.2" transform="rotate(-45 117.57 420.14)">BFU-E</text>
<text x="128.27" y="420.14" font-size="7.3" text-anchor="end" fill="#303030" stroke="#303030" stroke-width="0.2" transform="rotate(-45 128.27 420.14)">sCFU-E</text>
<text x="139.07" y="420.14" font-size="7.3" text-anchor="end" fill="#303030" stroke="#303030" stroke-width="0.2" transform="rotate(-45 139.07 420.14)">CFU-E</text>
<rect x="177.30" y="362.57" width="5.10" height="49.93" fill="#592a7b"/>
<rect x="188.10" y="356.58" width="5.10" height="55.92" fill="#3cb44a"/>
<line x1="190.65" y1="356.58" x2="190.65" y2="354.08" stroke="#282828" stroke-width="0.8"/>
<line x1="189.40" y1="354.08" x2="191.90" y2="354.08" stroke="#282828" stroke-width="0.8"/>
<rect x="199.10" y="380.55" width="5.30" height="31.95" fill="#f7931e"/>
<line x1="201.75" y1="380.55" x2="201.75" y2="377.55" stroke="#282828" stroke-width="0.8"/>
<line x1="200.50" y1="377.55" x2="203.00" y2="377.55" stroke="#282828" stroke-width="0.8"/>
<circle cx="190.70" cy="349.40" r="1.1" fill="#2a2a2a"/>
<circle cx="200.10" cy="373.20" r="1.1" fill="#2a2a2a"/>
<circle cx="203.50" cy="373.20" r="1.1" fill="#2a2a2a"/>
<polyline points="191.2,348.5 191.2,342.2 202.4,342.2 202.4,369.7" fill="none" stroke="#2b2b2b" stroke-width="0.8"/>
<circle cx="195.10" cy="338.30" r="1.1" fill="#2a2a2a"/>
<circle cx="198.50" cy="338.30" r="1.1" fill="#2a2a2a"/>
<text x="190.65" y="326.90" font-size="8.2" text-anchor="middle" fill="#333" stroke="#333" stroke-width="0.12" font-style="italic">Myb</text>
<text x="183.77" y="420.14" font-size="7.3" text-anchor="end" fill="#303030" stroke="#303030" stroke-width="0.2" transform="rotate(-45 183.77 420.14)">BFU-E</text>
<text x="194.37" y="420.14" font-size="7.3" text-anchor="end" fill="#303030" stroke="#303030" stroke-width="0.2" transform="rotate(-45 194.37 420.14)">sCFU-E</text>
<text x="205.57" y="420.14" font-size="7.3" text-anchor="end" fill="#303030" stroke="#303030" stroke-width="0.2" transform="rotate(-45 205.57 420.14)">CFU-E</text>
<rect x="243.90" y="384.54" width="5.10" height="27.96" fill="#592a7b"/>
<rect x="254.50" y="367.20" width="5.10" height="45.30" fill="#3cb44a"/>
<line x1="257.05" y1="367.20" x2="257.05" y2="360.21" stroke="#282828" stroke-width="0.8"/>
<line x1="255.80" y1="360.21" x2="258.30" y2="360.21" stroke="#282828" stroke-width="0.8"/>
<rect x="265.30" y="350.99" width="4.90" height="61.51" fill="#f7931e"/>
<line x1="267.75" y1="350.99" x2="267.75" y2="348.19" stroke="#282828" stroke-width="0.8"/>
<line x1="266.50" y1="348.19" x2="269.00" y2="348.19" stroke="#282828" stroke-width="0.8"/>
<circle cx="255.30" cy="356.00" r="1.1" fill="#2a2a2a"/>
<circle cx="258.70" cy="356.00" r="1.1" fill="#2a2a2a"/>
<circle cx="266.00" cy="343.90" r="1.1" fill="#2a2a2a"/>
<circle cx="269.40" cy="343.90" r="1.1" fill="#2a2a2a"/>
<polyline points="257.0,347.3 257.0,338.1 268.2,338.1 268.2,341.8" fill="none" stroke="#2b2b2b" stroke-width="0.8"/>
<circle cx="260.90" cy="334.20" r="1.1" fill="#2a2a2a"/>
<circle cx="264.30" cy="334.20" r="1.1" fill="#2a2a2a"/>
<text x="257.05" y="326.90" font-size="8.2" text-anchor="middle" fill="#333" stroke="#333" stroke-width="0.12" font-style="italic">Gata1</text>
<text x="250.37" y="420.14" font-size="7.3" text-anchor="end" fill="#303030" stroke="#303030" stroke-width="0.2" transform="rotate(-45 250.37 420.14)">BFU-E</text>
<text x="260.77" y="420.14" font-size="7.3" text-anchor="end" fill="#303030" stroke="#303030" stroke-width="0.2" transform="rotate(-45 260.77 420.14)">sCFU-E</text>
<text x="271.57" y="420.14" font-size="7.3" text-anchor="end" fill="#303030" stroke="#303030" stroke-width="0.2" transform="rotate(-45 271.57 420.14)">CFU-E</text>
<rect x="303.90" y="400.78" width="5.00" height="11.72" fill="#592a7b"/>
<rect x="314.40" y="394.34" width="5.60" height="18.16" fill="#3cb44a"/>
<line x1="317.20" y1="394.34" x2="317.20" y2="391.64" stroke="#282828" stroke-width="0.8"/>
<line x1="315.95" y1="391.64" x2="318.45" y2="391.64" stroke="#282828" stroke-width="0.8"/>
<rect x="325.60" y="353.92" width="5.10" height="58.58" fill="#f7931e"/>
<line x1="328.15" y1="353.92" x2="328.15" y2="348.06" stroke="#282828" stroke-width="0.8"/>
<line x1="326.90" y1="348.06" x2="329.40" y2="348.06" stroke="#282828" stroke-width="0.8"/>
<circle cx="326.40" cy="344.70" r="1.1" fill="#2a2a2a"/>
<circle cx="329.80" cy="344.70" r="1.1" fill="#2a2a2a"/>
<polyline points="317.5,386.0 317.5,339.2 327.7,339.2 327.7,341.2" fill="none" stroke="#2b2b2b" stroke-width="0.8"/>
<circle cx="320.90" cy="335.30" r="1.1" fill="#2a2a2a"/>
<circle cx="324.30" cy="335.30" r="1.1" fill="#2a2a2a"/>
<text x="317.20" y="326.90" font-size="8.2" text-anchor="middle" fill="#333" stroke="#333" stroke-width="0.12" font-style="italic">Alas2</text>
<text x="310.32" y="420.14" font-size="7.3" text-anchor="end" fill="#303030" stroke="#303030" stroke-width="0.2" transform="rotate(-45 310.32 420.14)">BFU-E</text>
<text x="320.92" y="420.14" font-size="7.3" text-anchor="end" fill="#303030" stroke="#303030" stroke-width="0.2" transform="rotate(-45 320.92 420.14)">sCFU-E</text>
<text x="331.97" y="420.14" font-size="7.3" text-anchor="end" fill="#303030" stroke="#303030" stroke-width="0.2" transform="rotate(-45 331.97 420.14)">CFU-E</text>
<ellipse cx="375.10" cy="412.50" rx="2.80" ry="1.4" fill="#3a1f50"/>
<rect x="383.40" y="392.87" width="5.10" height="19.63" fill="#3cb44a"/>
<line x1="385.95" y1="392.87" x2="385.95" y2="391.56" stroke="#282828" stroke-width="0.8"/>
<line x1="384.70" y1="391.56" x2="387.20" y2="391.56" stroke="#282828" stroke-width="0.8"/>
<rect x="394.00" y="356.66" width="5.20" height="55.84" fill="#f7931e"/>
<line x1="396.60" y1="356.66" x2="396.60" y2="352.30" stroke="#282828" stroke-width="0.8"/>
<line x1="395.35" y1="352.30" x2="397.85" y2="352.30" stroke="#282828" stroke-width="0.8"/>
<circle cx="384.30" cy="387.20" r="1.1" fill="#2a2a2a"/>
<circle cx="387.70" cy="387.20" r="1.1" fill="#2a2a2a"/>
<circle cx="394.90" cy="348.80" r="1.1" fill="#2a2a2a"/>
<circle cx="398.30" cy="348.80" r="1.1" fill="#2a2a2a"/>
<polyline points="385.9,380.0 385.9,341.2 396.1,341.2 396.1,343.9" fill="none" stroke="#2b2b2b" stroke-width="0.8"/>
<circle cx="389.30" cy="337.30" r="1.1" fill="#2a2a2a"/>
<circle cx="392.70" cy="337.30" r="1.1" fill="#2a2a2a"/>
<text x="385.95" y="326.90" font-size="8.2" text-anchor="middle" fill="#333" stroke="#333" stroke-width="0.12" font-style="italic">Epb42</text>
<text x="379.02" y="420.14" font-size="7.3" text-anchor="end" fill="#303030" stroke="#303030" stroke-width="0.2" transform="rotate(-45 379.02 420.14)">BFU-E</text>
<text x="389.67" y="420.14" font-size="7.3" text-anchor="end" fill="#303030" stroke="#303030" stroke-width="0.2" transform="rotate(-45 389.67 420.14)">sCFU-E</text>
<text x="400.42" y="420.14" font-size="7.3" text-anchor="end" fill="#303030" stroke="#303030" stroke-width="0.2" transform="rotate(-45 400.42 420.14)">CFU-E</text>
<ellipse cx="439.65" cy="412.50" rx="2.65" ry="1.4" fill="#3a1f50"/>
<rect x="447.50" y="381.05" width="5.10" height="31.45" fill="#3cb44a"/>
<line x1="450.05" y1="381.05" x2="450.05" y2="379.37" stroke="#282828" stroke-width="0.8"/>
<line x1="448.80" y1="379.37" x2="451.30" y2="379.37" stroke="#282828" stroke-width="0.8"/>
<rect x="458.30" y="360.77" width="5.10" height="51.73" fill="#f7931e"/>
<line x1="460.85" y1="360.77" x2="460.85" y2="355.88" stroke="#282828" stroke-width="0.8"/>
<line x1="459.60" y1="355.88" x2="462.10" y2="355.88" stroke="#282828" stroke-width="0.8"/>
<circle cx="448.30" cy="375.20" r="1.1" fill="#2a2a2a"/>
<circle cx="451.70" cy="375.20" r="1.1" fill="#2a2a2a"/>
<circle cx="459.20" cy="351.40" r="1.1" fill="#2a2a2a"/>
<circle cx="462.60" cy="351.40" r="1.1" fill="#2a2a2a"/>
<polyline points="450.1,367.7 450.1,344.7 460.3,344.7 460.3,348.7" fill="none" stroke="#2b2b2b" stroke-width="0.8"/>
<circle cx="453.50" cy="340.80" r="1.1" fill="#2a2a2a"/>
<circle cx="456.90" cy="340.80" r="1.1" fill="#2a2a2a"/>
<text x="450.05" y="326.90" font-size="8.2" text-anchor="middle" fill="#333" stroke="#333" stroke-width="0.12" font-style="italic">Gypa</text>
<text x="443.57" y="420.14" font-size="7.3" text-anchor="end" fill="#303030" stroke="#303030" stroke-width="0.2" transform="rotate(-45 443.57 420.14)">BFU-E</text>
<text x="453.77" y="420.14" font-size="7.3" text-anchor="end" fill="#303030" stroke="#303030" stroke-width="0.2" transform="rotate(-45 453.77 420.14)">sCFU-E</text>
<text x="464.67" y="420.14" font-size="7.3" text-anchor="end" fill="#303030" stroke="#303030" stroke-width="0.2" transform="rotate(-45 464.67 420.14)">CFU-E</text>
<line x1="137.20" y1="32.80" x2="137.20" y2="111.00" stroke="#282828" stroke-width="1.1"/>
<line x1="134.20" y1="35.60" x2="137.60" y2="35.60" stroke="#282828" stroke-width="0.9900000000000001"/>
<text x="131.70" y="38.25" font-size="8.2" text-anchor="end" fill="#303030" stroke="#303030" stroke-width="0.2">18</text>
<line x1="134.20" y1="60.57" x2="137.60" y2="60.57" stroke="#282828" stroke-width="0.9900000000000001"/>
<text x="131.70" y="63.22" font-size="8.2" text-anchor="end" fill="#303030" stroke="#303030" stroke-width="0.2">12</text>
<line x1="134.20" y1="85.53" x2="137.60" y2="85.53" stroke="#282828" stroke-width="0.9900000000000001"/>
<text x="131.70" y="88.19" font-size="8.2" text-anchor="end" fill="#303030" stroke="#303030" stroke-width="0.2">6</text>
<line x1="134.20" y1="110.50" x2="137.60" y2="110.50" stroke="#282828" stroke-width="0.9900000000000001"/>
<text x="131.70" y="113.15" font-size="8.2" text-anchor="end" fill="#303030" stroke="#303030" stroke-width="0.2">0</text>
<line x1="137.20" y1="110.50" x2="137.20" y2="112.80" stroke="#282828" stroke-width="1.1"/>
<line x1="136.70" y1="110.50" x2="194.20" y2="110.50" stroke="#282828" stroke-width="1.1"/>
<line x1="326.70" y1="19.10" x2="326.70" y2="111.00" stroke="#282828" stroke-width="1.1"/>
<line x1="323.70" y1="21.60" x2="327.10" y2="21.60" stroke="#282828" stroke-width="0.9900000000000001"/>
<text x="321.20" y="24.25" font-size="8.2" text-anchor="end" fill="#303030" stroke="#303030" stroke-width="0.2">8</text>
<line x1="323.70" y1="43.82" x2="327.10" y2="43.82" stroke="#282828" stroke-width="0.9900000000000001"/>
<text x="321.20" y="46.48" font-size="8.2" text-anchor="end" fill="#303030" stroke="#303030" stroke-width="0.2">6</text>
<line x1="323.70" y1="66.05" x2="327.10" y2="66.05" stroke="#282828" stroke-width="0.9900000000000001"/>
<text x="321.20" y="68.70" font-size="8.2" text-anchor="end" fill="#303030" stroke="#303030" stroke-width="0.2">4</text>
<line x1="323.70" y1="88.28" x2="327.10" y2="88.28" stroke="#282828" stroke-width="0.9900000000000001"/>
<text x="321.20" y="90.93" font-size="8.2" text-anchor="end" fill="#303030" stroke="#303030" stroke-width="0.2">2</text>
<line x1="323.70" y1="110.50" x2="327.10" y2="110.50" stroke="#282828" stroke-width="0.9900000000000001"/>
<text x="321.20" y="113.15" font-size="8.2" text-anchor="end" fill="#303030" stroke="#303030" stroke-width="0.2">0</text>
<line x1="324.00" y1="110.50" x2="371.90" y2="110.50" stroke="#282828" stroke-width="1.1"/>
<line x1="410.40" y1="25.60" x2="410.40" y2="111.00" stroke="#282828" stroke-width="1.1"/>
<line x1="407.40" y1="28.50" x2="410.80" y2="28.50" stroke="#282828" stroke-width="0.9900000000000001"/>
<text x="404.30" y="31.15" font-size="8.2" text-anchor="end" fill="#303030" stroke="#303030" stroke-width="0.2">40</text>
<line x1="407.40" y1="49.00" x2="410.80" y2="49.00" stroke="#282828" stroke-width="0.9900000000000001"/>
<text x="404.30" y="51.65" font-size="8.2" text-anchor="end" fill="#303030" stroke="#303030" stroke-width="0.2">30</text>
<line x1="407.40" y1="69.50" x2="410.80" y2="69.50" stroke="#282828" stroke-width="0.9900000000000001"/>
<text x="404.30" y="72.15" font-size="8.2" text-anchor="end" fill="#303030" stroke="#303030" stroke-width="0.2">20</text>
<line x1="407.40" y1="90.00" x2="410.80" y2="90.00" stroke="#282828" stroke-width="0.9900000000000001"/>
<text x="404.30" y="92.65" font-size="8.2" text-anchor="end" fill="#303030" stroke="#303030" stroke-width="0.2">10</text>
<line x1="407.40" y1="110.50" x2="410.80" y2="110.50" stroke="#282828" stroke-width="0.9900000000000001"/>
<text x="404.30" y="113.15" font-size="8.2" text-anchor="end" fill="#303030" stroke="#303030" stroke-width="0.2">0</text>
<line x1="407.50" y1="110.50" x2="451.90" y2="110.50" stroke="#282828" stroke-width="1.1"/>
<line x1="33.50" y1="181.50" x2="33.50" y2="268.80" stroke="#282828" stroke-width="1.1"/>
<line x1="30.50" y1="183.70" x2="33.90" y2="183.70" stroke="#282828" stroke-width="0.9900000000000001"/>
<text x="28.00" y="186.39" font-size="8.3" text-anchor="end" fill="#303030" stroke="#303030" stroke-width="0.2">300</text>
<line x1="30.50" y1="197.80" x2="33.90" y2="197.80" stroke="#282828" stroke-width="0.9900000000000001"/>
<text x="28.00" y="200.49" font-size="8.3" text-anchor="end" fill="#303030" stroke="#303030" stroke-width="0.2">250</text>
<line x1="30.50" y1="211.90" x2="33.90" y2="211.90" stroke="#282828" stroke-width="0.9900000000000001"/>
<text x="28.00" y="214.59" font-size="8.3" text-anchor="end" fill="#303030" stroke="#303030" stroke-width="0.2">200</text>
<line x1="30.50" y1="226.00" x2="33.90" y2="226.00" stroke="#282828" stroke-width="0.9900000000000001"/>
<text x="28.00" y="228.69" font-size="8.3" text-anchor="end" fill="#303030" stroke="#303030" stroke-width="0.2">150</text>
<line x1="30.50" y1="240.10" x2="33.90" y2="240.10" stroke="#282828" stroke-width="0.9900000000000001"/>
<text x="28.00" y="242.79" font-size="8.3" text-anchor="end" fill="#303030" stroke="#303030" stroke-width="0.2">100</text>
<line x1="30.50" y1="254.20" x2="33.90" y2="254.20" stroke="#282828" stroke-width="0.9900000000000001"/>
<text x="28.00" y="256.89" font-size="8.3" text-anchor="end" fill="#303030" stroke="#303030" stroke-width="0.2">50</text>
<line x1="30.50" y1="268.30" x2="33.90" y2="268.30" stroke="#282828" stroke-width="0.9900000000000001"/>
<text x="28.00" y="270.99" font-size="8.3" text-anchor="end" fill="#303030" stroke="#303030" stroke-width="0.2">0</text>
<line x1="33.50" y1="268.30" x2="126.60" y2="268.30" stroke="#282828" stroke-width="1.1"/>
<line x1="285.80" y1="173.20" x2="285.80" y2="268.90" stroke="#282828" stroke-width="1.1"/>
<line x1="282.80" y1="175.30" x2="286.20" y2="175.30" stroke="#282828" stroke-width="0.9900000000000001"/>
<text x="279.90" y="178.02" font-size="8.4" text-anchor="end" fill="#303030" stroke="#303030" stroke-width="0.2">5</text>
<line x1="282.80" y1="193.92" x2="286.20" y2="193.92" stroke="#282828" stroke-width="0.9900000000000001"/>
<text x="279.90" y="196.64" font-size="8.4" text-anchor="end" fill="#303030" stroke="#303030" stroke-width="0.2">4</text>
<line x1="282.80" y1="212.54" x2="286.20" y2="212.54" stroke="#282828" stroke-width="0.9900000000000001"/>
<text x="279.90" y="215.26" font-size="8.4" text-anchor="end" fill="#303030" stroke="#303030" stroke-width="0.2">3</text>
<line x1="282.80" y1="231.16" x2="286.20" y2="231.16" stroke="#282828" stroke-width="0.9900000000000001"/>
<text x="279.90" y="233.88" font-size="8.4" text-anchor="end" fill="#303030" stroke="#303030" stroke-width="0.2">2</text>
<line x1="282.80" y1="249.78" x2="286.20" y2="249.78" stroke="#282828" stroke-width="0.9900000000000001"/>
<text x="279.90" y="252.50" font-size="8.4" text-anchor="end" fill="#303030" stroke="#303030" stroke-width="0.2">1</text>
<line x1="282.80" y1="268.40" x2="286.20" y2="268.40" stroke="#282828" stroke-width="0.9900000000000001"/>
<text x="279.90" y="271.12" font-size="8.4" text-anchor="end" fill="#303030" stroke="#303030" stroke-width="0.2">0</text>
<line x1="282.90" y1="268.40" x2="373.60" y2="268.40" stroke="#282828" stroke-width="1.1"/>
<line x1="396.70" y1="173.00" x2="396.70" y2="268.90" stroke="#282828" stroke-width="1.1"/>
<line x1="393.70" y1="175.50" x2="397.10" y2="175.50" stroke="#282828" stroke-width="0.9900000000000001"/>
<text x="390.90" y="178.22" font-size="8.4" text-anchor="end" fill="#303030" stroke="#303030" stroke-width="0.2">2.0</text>
<line x1="393.70" y1="198.72" x2="397.10" y2="198.72" stroke="#282828" stroke-width="0.9900000000000001"/>
<text x="390.90" y="201.45" font-size="8.4" text-anchor="end" fill="#303030" stroke="#303030" stroke-width="0.2">1.5</text>
<line x1="393.70" y1="221.95" x2="397.10" y2="221.95" stroke="#282828" stroke-width="0.9900000000000001"/>
<text x="390.90" y="224.67" font-size="8.4" text-anchor="end" fill="#303030" stroke="#303030" stroke-width="0.2">1.0</text>
<line x1="393.70" y1="245.17" x2="397.10" y2="245.17" stroke="#282828" stroke-width="0.9900000000000001"/>
<text x="390.90" y="247.90" font-size="8.4" text-anchor="end" fill="#303030" stroke="#303030" stroke-width="0.2">0.5</text>
<line x1="393.70" y1="268.40" x2="397.10" y2="268.40" stroke="#282828" stroke-width="0.9900000000000001"/>
<text x="390.90" y="271.12" font-size="8.4" text-anchor="end" fill="#303030" stroke="#303030" stroke-width="0.2">0.0</text>
<line x1="396.70" y1="268.40" x2="520.00" y2="268.40" stroke="#282828" stroke-width="1.1"/>
<line x1="42.20" y1="340.10" x2="42.20" y2="413.00" stroke="#282828" stroke-width="1.1"/>
<line x1="39.70" y1="342.10" x2="42.60" y2="342.10" stroke="#282828" stroke-width="0.9900000000000001"/>
<text x="36.10" y="344.54" font-size="7.6" text-anchor="end" fill="#303030" stroke="#303030" stroke-width="0.2">2.5</text>
<line x1="39.70" y1="356.18" x2="42.60" y2="356.18" stroke="#282828" stroke-width="0.9900000000000001"/>
<text x="36.10" y="358.62" font-size="7.6" text-anchor="end" fill="#303030" stroke="#303030" stroke-width="0.2">2</text>
<line x1="39.70" y1="370.26" x2="42.60" y2="370.26" stroke="#282828" stroke-width="0.9900000000000001"/>
<text x="36.10" y="372.70" font-size="7.6" text-anchor="end" fill="#303030" stroke="#303030" stroke-width="0.2">1.5</text>
<line x1="39.70" y1="384.34" x2="42.60" y2="384.34" stroke="#282828" stroke-width="0.9900000000000001"/>
<text x="36.10" y="386.78" font-size="7.6" text-anchor="end" fill="#303030" stroke="#303030" stroke-width="0.2">1</text>
<line x1="39.70" y1="398.42" x2="42.60" y2="398.42" stroke="#282828" stroke-width="0.9900000000000001"/>
<text x="36.10" y="400.86" font-size="7.6" text-anchor="end" fill="#303030" stroke="#303030" stroke-width="0.2">0.5</text>
<line x1="39.70" y1="412.50" x2="42.60" y2="412.50" stroke="#282828" stroke-width="0.9900000000000001"/>
<text x="36.10" y="414.94" font-size="7.6" text-anchor="end" fill="#303030" stroke="#303030" stroke-width="0.2">0</text>
<line x1="39.70" y1="412.50" x2="74.70" y2="412.50" stroke="#282828" stroke-width="1.1"/>
<line x1="108.20" y1="340.10" x2="108.20" y2="413.00" stroke="#282828" stroke-width="1.1"/>
<line x1="105.70" y1="342.10" x2="108.60" y2="342.10" stroke="#282828" stroke-width="0.9900000000000001"/>
<text x="102.10" y="344.54" font-size="7.6" text-anchor="end" fill="#303030" stroke="#303030" stroke-width="0.2">1.2</text>
<line x1="105.70" y1="353.83" x2="108.60" y2="353.83" stroke="#282828" stroke-width="0.9900000000000001"/>
<text x="102.10" y="356.27" font-size="7.6" text-anchor="end" fill="#303030" stroke="#303030" stroke-width="0.2">1</text>
<line x1="105.70" y1="365.57" x2="108.60" y2="365.57" stroke="#282828" stroke-width="0.9900000000000001"/>
<text x="102.10" y="368.00" font-size="7.6" text-anchor="end" fill="#303030" stroke="#303030" stroke-width="0.2">0.8</text>
<line x1="105.70" y1="377.30" x2="108.60" y2="377.30" stroke="#282828" stroke-width="0.9900000000000001"/>
<text x="102.10" y="379.74" font-size="7.6" text-anchor="end" fill="#303030" stroke="#303030" stroke-width="0.2">0.6</text>
<line x1="105.70" y1="389.03" x2="108.60" y2="389.03" stroke="#282828" stroke-width="0.9900000000000001"/>
<text x="102.10" y="391.47" font-size="7.6" text-anchor="end" fill="#303030" stroke="#303030" stroke-width="0.2">0.4</text>
<line x1="105.70" y1="400.77" x2="108.60" y2="400.77" stroke="#282828" stroke-width="0.9900000000000001"/>
<text x="102.10" y="403.20" font-size="7.6" text-anchor="end" fill="#303030" stroke="#303030" stroke-width="0.2">0.2</text>
<line x1="105.70" y1="412.50" x2="108.60" y2="412.50" stroke="#282828" stroke-width="0.9900000000000001"/>
<text x="102.10" y="414.94" font-size="7.6" text-anchor="end" fill="#303030" stroke="#303030" stroke-width="0.2">0</text>
<line x1="105.70" y1="412.50" x2="140.20" y2="412.50" stroke="#282828" stroke-width="1.1"/>
<line x1="174.30" y1="340.60" x2="174.30" y2="413.00" stroke="#282828" stroke-width="1.1"/>
<line x1="171.80" y1="342.60" x2="174.70" y2="342.60" stroke="#282828" stroke-width="0.9900000000000001"/>
<text x="168.20" y="345.04" font-size="7.6" text-anchor="end" fill="#303030" stroke="#303030" stroke-width="0.2">1.4</text>
<line x1="171.80" y1="352.59" x2="174.70" y2="352.59" stroke="#282828" stroke-width="0.9900000000000001"/>
<text x="168.20" y="355.02" font-size="7.6" text-anchor="end" fill="#303030" stroke="#303030" stroke-width="0.2">1.2</text>
<line x1="171.80" y1="362.57" x2="174.70" y2="362.57" stroke="#282828" stroke-width="0.9900000000000001"/>
<text x="168.20" y="365.01" font-size="7.6" text-anchor="end" fill="#303030" stroke="#303030" stroke-width="0.2">1</text>
<line x1="171.80" y1="372.56" x2="174.70" y2="372.56" stroke="#282828" stroke-width="0.9900000000000001"/>
<text x="168.20" y="374.99" font-size="7.6" text-anchor="end" fill="#303030" stroke="#303030" stroke-width="0.2">0.8</text>
<line x1="171.80" y1="382.54" x2="174.70" y2="382.54" stroke="#282828" stroke-width="0.9900000000000001"/>
<text x="168.20" y="384.98" font-size="7.6" text-anchor="end" fill="#303030" stroke="#303030" stroke-width="0.2">0.6</text>
<line x1="171.80" y1="392.53" x2="174.70" y2="392.53" stroke="#282828" stroke-width="0.9900000000000001"/>
<text x="168.20" y="394.96" font-size="7.6" text-anchor="end" fill="#303030" stroke="#303030" stroke-width="0.2">0.4</text>
<line x1="171.80" y1="402.51" x2="174.70" y2="402.51" stroke="#282828" stroke-width="0.9900000000000001"/>
<text x="168.20" y="404.95" font-size="7.6" text-anchor="end" fill="#303030" stroke="#303030" stroke-width="0.2">0.2</text>
<line x1="171.80" y1="412.50" x2="174.70" y2="412.50" stroke="#282828" stroke-width="0.9900000000000001"/>
<text x="168.20" y="414.94" font-size="7.6" text-anchor="end" fill="#303030" stroke="#303030" stroke-width="0.2">0</text>
<line x1="171.80" y1="412.50" x2="206.50" y2="412.50" stroke="#282828" stroke-width="1.1"/>
<line x1="240.90" y1="340.60" x2="240.90" y2="413.00" stroke="#282828" stroke-width="1.1"/>
<line x1="238.40" y1="342.60" x2="241.30" y2="342.60" stroke="#282828" stroke-width="0.9900000000000001"/>
<text x="234.80" y="345.04" font-size="7.6" text-anchor="end" fill="#303030" stroke="#303030" stroke-width="0.2">2.5</text>
<line x1="238.40" y1="356.58" x2="241.30" y2="356.58" stroke="#282828" stroke-width="0.9900000000000001"/>
<text x="234.80" y="359.02" font-size="7.6" text-anchor="end" fill="#303030" stroke="#303030" stroke-width="0.2">2</text>
<line x1="238.40" y1="370.56" x2="241.30" y2="370.56" stroke="#282828" stroke-width="0.9900000000000001"/>
<text x="234.80" y="373.00" font-size="7.6" text-anchor="end" fill="#303030" stroke="#303030" stroke-width="0.2">1.5</text>
<line x1="238.40" y1="384.54" x2="241.30" y2="384.54" stroke="#282828" stroke-width="0.9900000000000001"/>
<text x="234.80" y="386.98" font-size="7.6" text-anchor="end" fill="#303030" stroke="#303030" stroke-width="0.2">1</text>
<line x1="238.40" y1="398.52" x2="241.30" y2="398.52" stroke="#282828" stroke-width="0.9900000000000001"/>
<text x="234.80" y="400.96" font-size="7.6" text-anchor="end" fill="#303030" stroke="#303030" stroke-width="0.2">0.5</text>
<line x1="238.40" y1="412.50" x2="241.30" y2="412.50" stroke="#282828" stroke-width="0.9900000000000001"/>
<text x="234.80" y="414.94" font-size="7.6" text-anchor="end" fill="#303030" stroke="#303030" stroke-width="0.2">0</text>
<line x1="238.40" y1="412.50" x2="272.50" y2="412.50" stroke="#282828" stroke-width="1.1"/>
<line x1="299.20" y1="340.20" x2="299.20" y2="413.00" stroke="#282828" stroke-width="1.1"/>
<line x1="296.70" y1="342.20" x2="299.60" y2="342.20" stroke="#282828" stroke-width="0.9900000000000001"/>
<text x="293.10" y="344.64" font-size="7.6" text-anchor="end" fill="#303030" stroke="#303030" stroke-width="0.2">6</text>
<line x1="296.70" y1="353.92" x2="299.60" y2="353.92" stroke="#282828" stroke-width="0.9900000000000001"/>
<text x="293.10" y="356.35" font-size="7.6" text-anchor="end" fill="#303030" stroke="#303030" stroke-width="0.2">5</text>
<line x1="296.70" y1="365.63" x2="299.60" y2="365.63" stroke="#282828" stroke-width="0.9900000000000001"/>
<text x="293.10" y="368.07" font-size="7.6" text-anchor="end" fill="#303030" stroke="#303030" stroke-width="0.2">4</text>
<line x1="296.70" y1="377.35" x2="299.60" y2="377.35" stroke="#282828" stroke-width="0.9900000000000001"/>
<text x="293.10" y="379.79" font-size="7.6" text-anchor="end" fill="#303030" stroke="#303030" stroke-width="0.2">3</text>
<line x1="296.70" y1="389.07" x2="299.60" y2="389.07" stroke="#282828" stroke-width="0.9900000000000001"/>
<text x="293.10" y="391.50" font-size="7.6" text-anchor="end" fill="#303030" stroke="#303030" stroke-width="0.2">2</text>
<line x1="296.70" y1="400.78" x2="299.60" y2="400.78" stroke="#282828" stroke-width="0.9900000000000001"/>
<text x="293.10" y="403.22" font-size="7.6" text-anchor="end" fill="#303030" stroke="#303030" stroke-width="0.2">1</text>
<line x1="296.70" y1="412.50" x2="299.60" y2="412.50" stroke="#282828" stroke-width="0.9900000000000001"/>
<text x="293.10" y="414.94" font-size="7.6" text-anchor="end" fill="#303030" stroke="#303030" stroke-width="0.2">0</text>
<line x1="296.70" y1="412.50" x2="333.00" y2="412.50" stroke="#282828" stroke-width="1.1"/>
<line x1="369.10" y1="340.70" x2="369.10" y2="413.00" stroke="#282828" stroke-width="1.1"/>
<line x1="366.60" y1="342.70" x2="369.50" y2="342.70" stroke="#282828" stroke-width="0.9900000000000001"/>
<text x="363.00" y="345.14" font-size="7.6" text-anchor="end" fill="#303030" stroke="#303030" stroke-width="0.2">160</text>
<line x1="366.60" y1="351.43" x2="369.50" y2="351.43" stroke="#282828" stroke-width="0.9900000000000001"/>
<text x="363.00" y="353.86" font-size="7.6" text-anchor="end" fill="#303030" stroke="#303030" stroke-width="0.2">140</text>
<line x1="366.60" y1="360.15" x2="369.50" y2="360.15" stroke="#282828" stroke-width="0.9900000000000001"/>
<text x="363.00" y="362.59" font-size="7.6" text-anchor="end" fill="#303030" stroke="#303030" stroke-width="0.2">120</text>
<line x1="366.60" y1="368.88" x2="369.50" y2="368.88" stroke="#282828" stroke-width="0.9900000000000001"/>
<text x="363.00" y="371.31" font-size="7.6" text-anchor="end" fill="#303030" stroke="#303030" stroke-width="0.2">100</text>
<line x1="366.60" y1="377.60" x2="369.50" y2="377.60" stroke="#282828" stroke-width="0.9900000000000001"/>
<text x="363.00" y="380.04" font-size="7.6" text-anchor="end" fill="#303030" stroke="#303030" stroke-width="0.2">80</text>
<line x1="366.60" y1="386.32" x2="369.50" y2="386.32" stroke="#282828" stroke-width="0.9900000000000001"/>
<text x="363.00" y="388.76" font-size="7.6" text-anchor="end" fill="#303030" stroke="#303030" stroke-width="0.2">60</text>
<line x1="366.60" y1="395.05" x2="369.50" y2="395.05" stroke="#282828" stroke-width="0.9900000000000001"/>
<text x="363.00" y="397.49" font-size="7.6" text-anchor="end" fill="#303030" stroke="#303030" stroke-width="0.2">40</text>
<line x1="366.60" y1="403.77" x2="369.50" y2="403.77" stroke="#282828" stroke-width="0.9900000000000001"/>
<text x="363.00" y="406.21" font-size="7.6" text-anchor="end" fill="#303030" stroke="#303030" stroke-width="0.2">20</text>
<line x1="366.60" y1="412.50" x2="369.50" y2="412.50" stroke="#282828" stroke-width="0.9900000000000001"/>
<text x="363.00" y="414.94" font-size="7.6" text-anchor="end" fill="#303030" stroke="#303030" stroke-width="0.2">0</text>
<line x1="366.60" y1="412.50" x2="401.80" y2="412.50" stroke="#282828" stroke-width="1.1"/>
<line x1="433.90" y1="340.60" x2="433.90" y2="413.00" stroke="#282828" stroke-width="1.1"/>
<line x1="431.40" y1="342.60" x2="434.30" y2="342.60" stroke="#282828" stroke-width="0.9900000000000001"/>
<text x="427.80" y="345.04" font-size="7.6" text-anchor="end" fill="#303030" stroke="#303030" stroke-width="0.2">50</text>
<line x1="431.40" y1="356.58" x2="434.30" y2="356.58" stroke="#282828" stroke-width="0.9900000000000001"/>
<text x="427.80" y="359.02" font-size="7.6" text-anchor="end" fill="#303030" stroke="#303030" stroke-width="0.2">40</text>
<line x1="431.40" y1="370.56" x2="434.30" y2="370.56" stroke="#282828" stroke-width="0.9900000000000001"/>
<text x="427.80" y="373.00" font-size="7.6" text-anchor="end" fill="#303030" stroke="#303030" stroke-width="0.2">30</text>
<line x1="431.40" y1="384.54" x2="434.30" y2="384.54" stroke="#282828" stroke-width="0.9900000000000001"/>
<text x="427.80" y="386.98" font-size="7.6" text-anchor="end" fill="#303030" stroke="#303030" stroke-width="0.2">20</text>
<line x1="431.40" y1="398.52" x2="434.30" y2="398.52" stroke="#282828" stroke-width="0.9900000000000001"/>
<text x="427.80" y="400.96" font-size="7.6" text-anchor="end" fill="#303030" stroke="#303030" stroke-width="0.2">10</text>
<line x1="431.40" y1="412.50" x2="434.30" y2="412.50" stroke="#282828" stroke-width="0.9900000000000001"/>
<text x="427.80" y="414.94" font-size="7.6" text-anchor="end" fill="#303030" stroke="#303030" stroke-width="0.2">0</text>
<line x1="431.40" y1="412.50" x2="465.20" y2="412.50" stroke="#282828" stroke-width="1.1"/>
</svg>
</body></html>
